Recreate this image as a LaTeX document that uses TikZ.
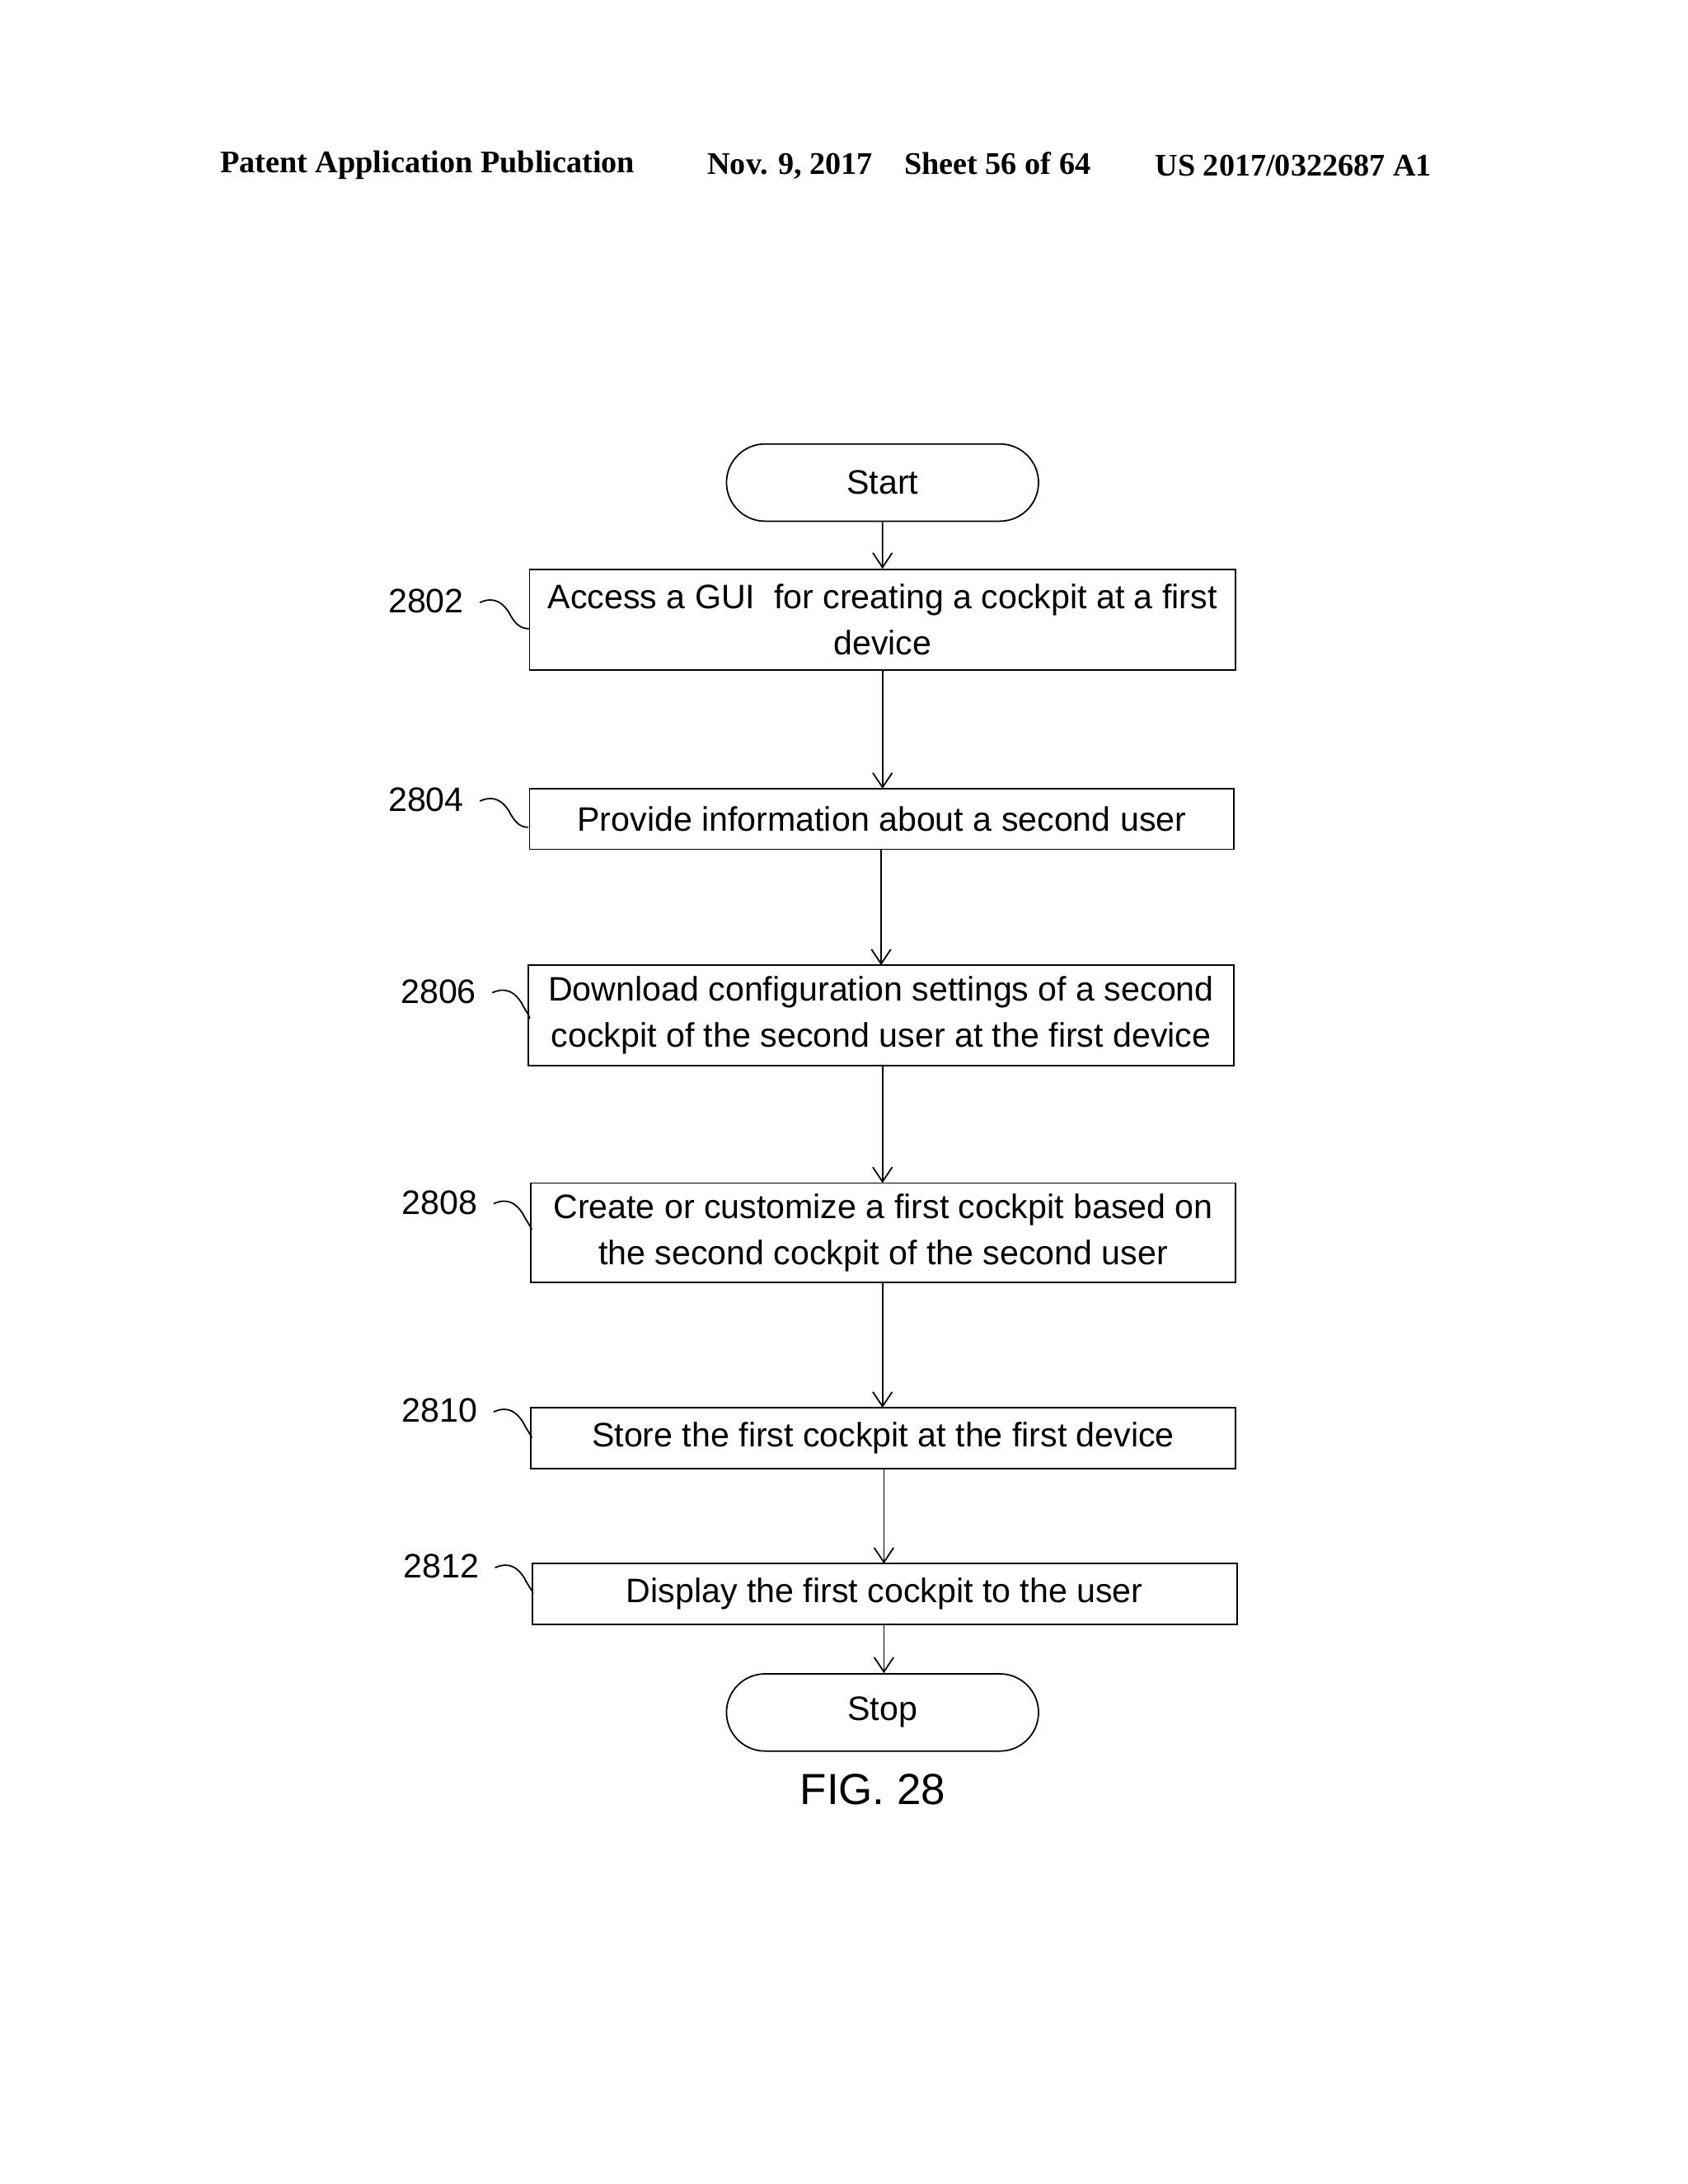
\documentclass[tikz,border=0pt]{standalone}
\usepackage{fontspec}
\setmainfont{Liberation Sans}
\newfontfamily\hdr{Liberation Serif}
\usetikzlibrary{shapes.misc,arrows.meta}
\begin{document}
\begin{tikzpicture}[x=0.02cm,y=-0.02cm,
  box/.style={draw,line width=0.6pt,inner sep=0pt,align=center,font=\fontsize{14}{19}\selectfont},
  term/.style={draw,line width=0.6pt,rounded rectangle,minimum width=238*0.02cm,minimum height=56*0.02cm,font=\fontsize{14}{17}\selectfont},
  arr/.style={-{Straight Barb[length=6pt,width=8pt]},line width=0.6pt},
  lab/.style={font=\fontsize{14}{17}\selectfont},
  sq/.style={line width=0.6pt}]
\useasboundingbox (0,0) rectangle (1224,1584);
\node[font=\hdr\bfseries\fontsize{13}{15}\selectfont] (h1) at (310,120) {Patent Application Publication};
\node[font=\hdr\bfseries\fontsize{13}{15}\selectfont] (h2) at (652,120) {Nov. 9, 2017\quad Sheet 56 of 64};
\node[font=\hdr\bfseries\fontsize{13}{15}\selectfont] (h3) at (938,120) {US 2017/0322687 A1};

\node[term] (start) at (640,350) {Start};
\node[box,minimum width=512*0.02cm,minimum height=73*0.02cm] (b1) at (640,449.5) {Access a GUI\ \ for creating a cockpit at a first\\device};
\node[box,minimum width=511*0.02cm,minimum height=44*0.02cm] (b2) at (639.5,594) {Provide information about a second user};
\node[box,minimum width=512*0.02cm,minimum height=73*0.02cm] (b3) at (639,736.5) {Download configuration settings of a second\\cockpit of the second user at the first device};
\node[box,minimum width=511*0.02cm,minimum height=72*0.02cm] (b4) at (640.5,894) {Create or customize a first cockpit based on\\the second cockpit of the second user};
\node[box,minimum width=511*0.02cm,minimum height=44*0.02cm] (b5) at (640.5,1043) {Store the first cockpit at the first device};
\node[box,minimum width=511*0.02cm,minimum height=44*0.02cm] (b6) at (641.5,1156) {Display the first cockpit to the user};
\node[term] (stop) at (640,1242) {Stop};
\node[font=\fontsize{18}{21}\selectfont] (fig) at (633,1298) {FIG. 28};

\draw[arr] (start) -- (start|-b1.north);
\draw[arr] (b1.south-|640,0) -- (640,572);
\draw[arr] (b2.south-|639,0) -- (639,700);
\draw[arr] (b3.south-|640,0) -- (640,858);
\draw[arr] (b4.south-|640,0) -- (640,1021);
\draw[arr] (b5.south-|641,0) -- (641,1134);
\draw[arr] (b6.south-|641,0) -- (stop.north-|641,0);

\foreach \n/\lx/\ly/\bx in {2802/309/436/384, 2804/309/580/383, 2806/318/719/383, 2808/319/872/385, 2810/319/1023/385, 2812/320/1136/386}{
  \node[lab] (l\n) at (\lx,\ly) {\n};
  \coordinate (s\n) at (\lx+39,\ly+1);
  \coordinate (e\n) at (\bx,\ly+20);
  \draw[sq] (s\n) .. controls (\lx+50,\ly-4) and (\lx+56,\ly+2) .. (\lx+60,\ly+8) .. controls (\lx+64,\ly+16) and (\lx+68,\ly+20) .. (e\n);
}
\end{tikzpicture}
\end{document}
